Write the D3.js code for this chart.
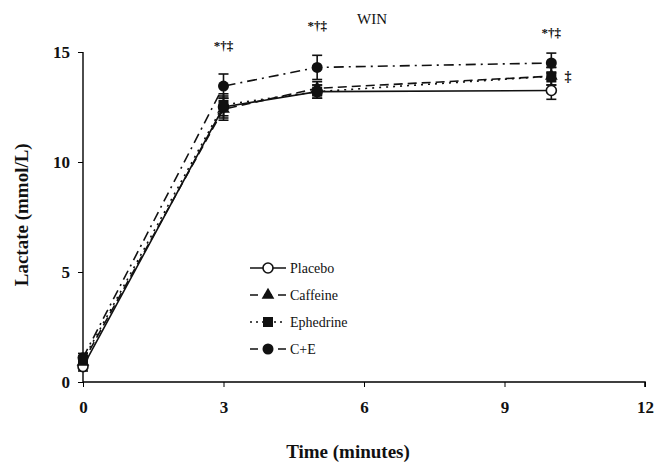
<!DOCTYPE html>
<html>
<head>
<meta charset="utf-8">
<script src="https://cdn.jsdelivr.net/npm/d3@7/dist/d3.min.js"></script>
<style>
  body { margin: 0; background: #fff; }
  text { font-family: "Liberation Serif", "DejaVu Serif", serif; fill: #111; }
</style>
</head>
<body>
<svg id="chart" width="655" height="464"></svg>
<script>
// Time points (minutes)
var times = [0, 3, 5, 10];

// Series means (mmol/L)
var placebo = [0.7, 12.5, 13.2, 13.25];
var caffeine = [0.9, 12.4, 13.35, 13.9];
var ephedrine = [1.0, 12.6, 13.2, 13.9];
var combined = [1.1, 13.45, 14.3, 14.5];

// Error bar half-widths
var placeboErr = [0.2, 0.5, 0.3, 0.4];
var caffeineErr = [0.2, 0.5, 0.3, 0.4];
var ephedrineErr = [0.2, 0.5, 0.3, 0.4];
var combinedErr = [0.2, 0.55, 0.55, 0.45];

// Significance labels
var sigTimes = [3, 5, 10];
var sigLabels = ['*†‡', '*†‡', '*†‡'];
var sigValues = [15.1, 16.0, 15.7];

var xTicks = [0, 3, 6, 9, 12];
var yTicks = [0, 5, 10, 15];

var series = [
  { name: 'Placebo', values: placebo, err: placeboErr, dash: null, marker: 'open' },
  { name: 'Caffeine', values: caffeine, err: caffeineErr, dash: '9,5', marker: 'triangle' },
  { name: 'Ephedrine', values: ephedrine, err: ephedrineErr, dash: '2,5', marker: 'square' },
  { name: 'C+E', values: combined, err: combinedErr, dash: '10,5,2,5', marker: 'circle' }
];

var svg = d3.select('#chart');

var x = d3.scaleLinear().domain([0, 12]).range([83, 645]);
var y = d3.scaleLinear().domain([0, 15]).range([382, 52]);

// axes
var xAxis = svg.append('g')
  .attr('transform', 'translate(0,' + y(0) + ')')
  .call(d3.axisBottom(x).tickValues(xTicks).tickSize(5).tickPadding(14));
xAxis.select('.domain').attr('d', 'M' + x(0) + ',0H' + x(12) + 'V5').attr('stroke-width', 1.6);
xAxis.selectAll('text').attr('font-size', 17).attr('font-weight', 'bold').attr('font-family', null);

var yAxis = svg.append('g')
  .attr('transform', 'translate(' + x(0) + ',0)')
  .call(d3.axisLeft(y).tickValues(yTicks).tickSize(5).tickPadding(8));
yAxis.select('.domain').attr('d', 'M0,' + y(0) + 'V' + y(15)).attr('stroke-width', 1.4);
yAxis.selectAll('text').attr('font-size', 17).attr('font-weight', 'bold').attr('font-family', null);

svg.append('text')
  .attr('x', 348).attr('y', 458)
  .attr('text-anchor', 'middle')
  .attr('font-size', 19).attr('font-weight', 'bold')
  .text('Time (minutes)');

svg.append('text')
  .attr('transform', 'translate(28,' + y(7.6) + ') rotate(-90)')
  .attr('text-anchor', 'middle')
  .attr('font-size', 19).attr('font-weight', 'bold')
  .text('Lactate (mmol/L)');

svg.append('text')
  .attr('x', 372).attr('y', 24)
  .attr('text-anchor', 'middle')
  .attr('font-size', 15)
  .text('WIN');

// lines
var line = d3.line()
  .x(function (d, i) { return x(times[i]); })
  .y(function (d) { return y(d); });

series.forEach(function (s) {
  svg.append('path')
    .datum(s.values)
    .attr('d', line)
    .attr('fill', 'none')
    .attr('stroke', '#111')
    .attr('stroke-width', 1.6)
    .attr('stroke-dasharray', s.dash);
});

// error bars
series.forEach(function (s) {
  var g = svg.append('g').attr('stroke', '#111').attr('stroke-width', 1.6);
  s.values.forEach(function (v, i) {
    var cx = x(times[i]);
    var lo = y(v - s.err[i]), hi = y(v + s.err[i]);
    g.append('line').attr('x1', cx).attr('x2', cx).attr('y1', lo).attr('y2', hi);
    g.append('line').attr('x1', cx - 5).attr('x2', cx + 5).attr('y1', hi).attr('y2', hi);
    g.append('line').attr('x1', cx - 5).attr('x2', cx + 5).attr('y1', lo).attr('y2', lo);
  });
});

function drawMarker(g, type, cx, cy) {
  if (type === 'open') {
    g.append('circle').attr('cx', cx).attr('cy', cy).attr('r', 5)
      .attr('fill', '#fff').attr('stroke', '#111').attr('stroke-width', 1.6);
  } else if (type === 'circle') {
    g.append('circle').attr('cx', cx).attr('cy', cy).attr('r', 5.5).attr('fill', '#111');
  } else if (type === 'square') {
    g.append('rect').attr('x', cx - 5).attr('y', cy - 5).attr('width', 10).attr('height', 10).attr('fill', '#111');
  } else {
    g.append('path')
      .attr('d', d3.symbol().type(d3.symbolTriangle).size(70)())
      .attr('transform', 'translate(' + cx + ',' + cy + ')')
      .attr('fill', '#111');
  }
}

// markers: placebo first, the filled markers cover it where they overlap
series.forEach(function (s) {
  var g = svg.append('g');
  s.values.forEach(function (v, i) { drawMarker(g, s.marker, x(times[i]), y(v)); });
});

// significance marks
sigTimes.forEach(function (t, i) {
  svg.append('text')
    .attr('x', x(t)).attr('y', y(sigValues[i]))
    .attr('text-anchor', 'middle')
    .attr('font-size', 13).attr('font-weight', 'bold')
    .text(sigLabels[i]);
});
svg.append('text')
  .attr('x', 568).attr('y', y(13.9) + 5)
  .attr('text-anchor', 'middle')
  .attr('font-size', 14).attr('font-weight', 'bold')
  .text('‡');

// legend
var legend = svg.append('g').attr('transform', 'translate(250,268)');
series.forEach(function (s, i) {
  var row = legend.append('g').attr('transform', 'translate(0,' + i * 27 + ')');
  row.append('line').attr('x1', 0).attr('x2', 36).attr('y1', 0).attr('y2', 0)
    .attr('stroke', '#111').attr('stroke-width', 1.6)
    .attr('stroke-dasharray', s.dash === '2,5' ? '2,4' : s.dash ? '8,6' : null);
  drawMarker(row, s.marker, 18, 0);
  row.append('text').attr('x', 40).attr('y', 5).attr('font-size', 14).text(s.name);
});
</script>
</body>
</html>
